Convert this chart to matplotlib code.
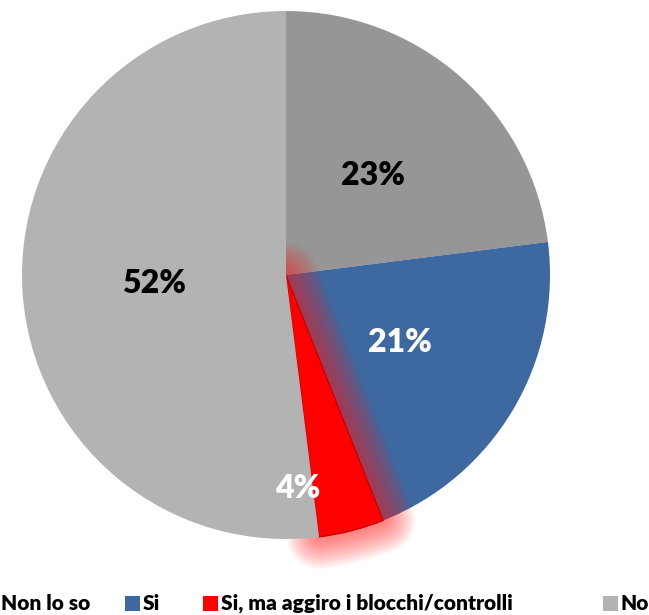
import numpy as np
import matplotlib
matplotlib.use("Agg")
from matplotlib import pyplot as plt
from matplotlib.patches import Rectangle
import matplotlib.patheffects as pe

# data
labels = ["Non lo so", "Si", "Si, ma aggiro i blocchi/controlli", "No"]
values = [23, 21, 4, 52]
colors = ["#969696", "#3d68a0", "#ff0000", "#b3b3b3"]
label_colors = ["black", "white", "white", "black"]

plt.rcParams["font.family"] = ["Lato", "DejaVu Sans"]

W, H = 649, 615
cx, cy, R = 286, 275, 264

fig = plt.figure(figsize=(W / 100, H / 100), dpi=100)
ax = fig.add_axes([0, 0, 1, 1])
ax.axis("off")

wedges, _ = ax.pie(values, colors=colors, startangle=90, counterclock=False,
                   radius=1, wedgeprops=dict(linewidth=0))
ax.set_xlim(-cx / R, (W - cx) / R)
ax.set_ylim(-(H - cy) / R, cy / R)
ax.set_aspect("equal")

# draw order like the original: small red slice with a soft glow,
# the big "No" slice on top of the glow
red, no = wedges[2], wedges[3]
red.set_zorder(3)
no.set_zorder(4)
glow = [pe.Stroke(linewidth=lw, foreground="#ff2020", alpha=0.045,
                  joinstyle="round", capstyle="round")
        for lw in np.linspace(46, 2, 18)]
red.set_path_effects(glow + [pe.Normal()])
red.set_edgecolor("#c00000")
red.set_linewidth(0.8)

for i, w in enumerate(wedges):
    ang = np.deg2rad((w.theta1 + w.theta2) / 2)
    dist = 0.5
    if values[i] < 10:
        # small slice: label sits near the rim, nudged onto the neighbour
        ang = np.deg2rad(w.theta1 - 4)
        dist = 0.81
    ax.text(dist * np.cos(ang), dist * np.sin(ang), f"{values[i]}%",
            ha="center", va="center", fontsize=23, fontweight="heavy",
            color=label_colors[i], zorder=10)

# legend, laid out by hand (left entry runs off the canvas as in the original)
leg_y = 1 - 603 / H
sq = 15
text_x = [90, 143, 221, 621]
for i, (lab, c) in enumerate(zip(labels, colors)):
    if i == 0:
        fig.text(text_x[i] / W, leg_y, lab, ha="right", va="center",
                 fontsize=15, fontweight="heavy")
        continue
    fig.text(text_x[i] / W, leg_y, lab, ha="left", va="center",
             fontsize=15, fontweight="heavy")
    fig.patches.append(Rectangle(((text_x[i] - 18) / W, leg_y - sq / 2 / H),
                                 sq / W, sq / H, transform=fig.transFigure,
                                 facecolor=c, edgecolor="none"))

fig.savefig("out.png", dpi=100)
